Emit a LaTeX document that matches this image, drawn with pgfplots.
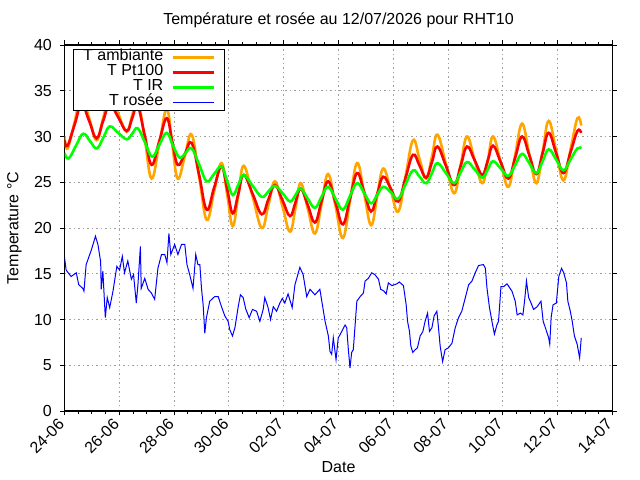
\documentclass[border=0pt]{standalone}
\usepackage{fontspec}
\setmainfont{Liberation Sans}
\usepackage{pgfplots}
\pgfplotsset{compat=1.18}
\definecolor{gporange}{RGB}{255,165,0}
\definecolor{gpred}{RGB}{255,0,0}
\definecolor{gpgreen}{RGB}{0,255,0}
\definecolor{gpblue}{RGB}{0,0,255}
\definecolor{gpgrid}{RGB}{160,160,160}
\newcommand{\gpfont}{\fontsize{16bp}{19bp}\selectfont}
\begin{document}
\begin{tikzpicture}[font=\gpfont]
\useasboundingbox (0,0) rectangle (640bp,480bp);
\begin{axis}[
  at={(64.5bp,69bp)}, anchor=south west,
  scale only axis, width=548bp, height=366bp,
  xmin=0, xmax=20, ymin=0, ymax=40,
  xtick={0,2,...,20},
  xticklabels={24-06,26-06,28-06,30-06,02-07,04-07,06-07,08-07,10-07,12-07,14-07},
  minor x tick num=3,
  ytick={0,5,...,40},
  /pgf/number format/assume math mode=true,
  tick align=outside,
  major tick length=4.5bp, minor tick length=3bp,
  tick style={black, line width=0.9bp},
  axis line style={line width=1.2bp},
  xmajorgrids, ymajorgrids,
  major grid style={gpgrid, dash pattern=on 1.5bp off 3bp, line width=0.9bp},
  tick label style={font=\gpfont},
  yticklabel style={anchor=east, inner sep=0pt, xshift=-8bp},
  xticklabel style={xshift=-3bp, yshift=-6bp, rotate=45, anchor=east, inner sep=0pt},
  title={Température et rosée au 12/07/2026 pour RHT10},
  title style={at={(0.5,1)}, anchor=base, yshift=15bp, font=\gpfont},
  ylabel={Temperature °C},
  ylabel style={at={(axis description cs:-0.084,0.5)}, anchor=base, font=\gpfont},
  xlabel={Date},
  xlabel style={at={(axis description cs:0.5,-0.167)}, anchor=base, font=\gpfont},
  legend cell align=right, legend plot pos=right,
  legend image code/.code={\draw[#1] (0bp,0bp) -- (41bp,0bp);},
  legend style={at={(rel axis cs:0.016,0.989)}, anchor=north west,
    draw=black, line width=0.9bp, fill=white, inner xsep=9.5bp, inner ysep=0.5bp,
    row sep=0pt, column sep=8bp, font=\gpfont,
    nodes={inner sep=0pt, text height=11bp, text depth=4bp}},
]
\addplot[gporange, line width=2.6bp, smooth, tension=0.7] coordinates {
(0.00,30.0) (0.11,28.7) (0.37,31.6) (0.62,34.5) (0.90,32.0) (1.17,29.6) (1.41,32.0) (1.65,34.5) (1.96,32.5)
(2.27,30.5) (2.47,32.3) (2.67,34.0) (2.93,29.7) (3.18,25.4) (3.46,29.2) (3.73,33.0) (3.93,29.2) (4.13,25.4)
(4.39,27.8) (4.64,30.2) (4.92,25.5) (5.19,20.9) (5.46,24.0) (5.73,27.1) (5.94,23.6) (6.14,20.2) (6.34,23.5)
(6.54,26.8) (6.87,23.4) (7.20,20.0) (7.44,22.5) (7.68,25.1) (7.96,22.3) (8.23,19.6) (8.43,22.2) (8.62,24.9)
(8.88,22.1) (9.14,19.4) (9.38,22.6) (9.62,25.9) (9.89,22.4) (10.16,18.9) (10.42,23.0) (10.68,27.1) (10.94,23.7)
(11.19,20.3) (11.41,23.4) (11.63,26.5) (11.91,24.1) (12.18,21.8) (12.45,25.7) (12.72,29.6) (12.96,27.5) (13.20,25.4)
(13.41,27.8) (13.61,30.2) (13.92,27.0) (14.22,23.8) (14.46,26.9) (14.69,30.0) (14.97,27.4) (15.25,24.9) (15.45,27.4)
(15.64,30.0) (15.92,27.2) (16.20,24.5) (16.45,28.0) (16.70,31.4) (16.96,28.1) (17.22,24.9) (17.45,28.3) (17.67,31.7)
(17.94,28.5) (18.21,25.2) (18.47,28.6) (18.72,32.0) (18.86,31.2)
};
\addlegendentry{T ambiante}
\addplot[gpred, line width=2.6bp, smooth, tension=0.7] coordinates {
(0.00,29.6) (0.11,29.0) (0.37,31.3) (0.62,33.5) (0.90,31.7) (1.17,29.8) (1.41,31.7) (1.65,33.5) (1.96,32.1)
(2.27,30.6) (2.47,32.0) (2.67,33.3) (2.93,30.1) (3.18,26.9) (3.46,29.5) (3.73,32.0) (3.93,29.5) (4.13,26.9)
(4.39,28.1) (4.64,29.3) (4.92,25.7) (5.19,22.0) (5.46,24.4) (5.73,26.7) (5.94,24.2) (6.14,21.6) (6.34,23.7)
(6.54,25.8) (6.87,23.7) (7.20,21.5) (7.44,23.1) (7.68,24.7) (7.96,23.0) (8.23,21.3) (8.43,22.8) (8.62,24.3)
(8.88,22.5) (9.14,20.6) (9.38,22.9) (9.62,25.1) (9.89,22.8) (10.16,20.4) (10.42,23.2) (10.68,26.0) (10.94,23.9)
(11.19,21.8) (11.41,23.7) (11.63,25.6) (11.91,24.3) (12.18,22.9) (12.45,25.5) (12.72,28.0) (12.96,26.8) (13.20,25.5)
(13.41,27.2) (13.61,28.9) (13.92,26.8) (14.22,24.7) (14.46,26.8) (14.69,28.9) (14.97,27.4) (15.25,25.8) (15.45,27.4)
(15.64,29.0) (15.92,27.2) (16.20,25.4) (16.45,27.7) (16.70,30.0) (16.96,28.0) (17.22,25.9) (17.45,28.2) (17.67,30.4)
(17.94,28.2) (18.21,26.0) (18.47,28.3) (18.72,30.6) (18.86,30.4)
};
\addlegendentry{T Pt100}
\addplot[gpgreen, line width=2.6bp, smooth, tension=0.7] coordinates {
(0.00,28.2) (0.15,27.6) (0.42,29.0) (0.68,30.3) (0.93,29.5) (1.18,28.7) (1.42,29.9) (1.65,31.1) (1.96,30.4)
(2.27,29.7) (2.47,30.3) (2.67,30.9) (2.93,29.4) (3.20,27.8) (3.46,29.1) (3.73,30.4) (3.96,29.0) (4.20,27.7)
(4.42,28.2) (4.64,28.7) (4.92,26.9) (5.19,25.1) (5.46,25.9) (5.73,26.7) (5.94,25.1) (6.14,23.6) (6.34,24.7)
(6.54,25.8) (6.87,24.6) (7.20,23.4) (7.44,24.0) (7.68,24.6) (7.96,23.8) (8.23,22.9) (8.43,23.6) (8.62,24.3)
(8.88,23.2) (9.14,22.2) (9.38,23.4) (9.62,24.5) (9.89,23.2) (10.16,22.0) (10.42,23.5) (10.68,24.9) (10.94,23.8)
(11.19,22.7) (11.41,23.6) (11.63,24.5) (11.91,23.9) (12.18,23.2) (12.45,24.8) (12.72,26.3) (12.96,25.6) (13.20,24.9)
(13.41,26.0) (13.61,27.1) (13.92,26.0) (14.22,24.9) (14.46,26.1) (14.69,27.2) (14.97,26.4) (15.25,25.5) (15.45,26.4)
(15.64,27.3) (15.92,26.5) (16.20,25.7) (16.45,26.9) (16.70,28.1) (16.96,27.1) (17.22,26.0) (17.45,27.3) (17.67,28.6)
(17.94,27.5) (18.21,26.3) (18.47,27.5) (18.72,28.7) (18.86,28.7)
};
\addlegendentry{T IR}
\addplot[gpblue, line width=1bp] coordinates {
(0.00,16.8) (0.06,15.4) (0.24,14.7) (0.43,15.1) (0.52,13.8) (0.67,13.4) (0.71,13.1) (0.79,16.0) (0.98,17.6)
(1.13,19.1) (1.22,18.2) (1.32,16.3) (1.34,13.3) (1.40,15.3) (1.49,10.2) (1.56,12.4) (1.65,11.3) (1.77,13.1)
(1.91,15.8) (2.01,15.4) (2.11,16.9) (2.19,15.1) (2.31,16.4) (2.44,14.4) (2.52,14.9) (2.62,11.8) (2.68,13.8)
(2.77,18.0) (2.80,13.4) (2.93,14.5) (3.05,13.3) (3.17,12.9) (3.29,12.2) (3.41,15.6) (3.54,17.1) (3.66,17.1)
(3.74,16.2) (3.81,19.4) (3.88,17.1) (4.02,18.2) (4.14,17.1) (4.27,18.2) (4.39,18.2) (4.47,16.0) (4.57,14.9)
(4.69,13.4) (4.79,17.1) (4.87,16.0) (4.94,16.0) (5.00,13.4) (5.06,11.6) (5.12,8.5) (5.18,10.2) (5.30,12.0)
(5.48,12.5) (5.61,12.5) (5.73,11.4) (5.85,10.4) (5.97,9.8) (6.03,8.9) (6.13,8.2) (6.22,9.1) (6.34,11.4)
(6.42,12.7) (6.52,12.4) (6.62,11.1) (6.74,10.2) (6.86,11.1) (7.01,10.9) (7.13,9.8) (7.25,11.1) (7.31,12.4)
(7.43,11.3) (7.52,10.0) (7.62,11.4) (7.74,10.9) (7.86,11.8) (7.95,12.3) (8.04,11.8) (8.16,12.8) (8.31,11.3)
(8.41,13.8) (8.59,15.7) (8.71,14.9) (8.84,12.5) (8.96,13.3) (9.14,12.7) (9.32,13.3) (9.44,11.1) (9.51,9.8)
(9.63,8.2) (9.69,6.5) (9.75,6.2) (9.81,8.0) (9.91,5.6) (9.99,8.0) (10.03,8.2) (10.12,8.7) (10.24,9.4)
(10.30,9.1) (10.36,6.7) (10.42,4.7) (10.48,6.4) (10.54,6.7) (10.67,12.0) (10.79,12.5) (10.91,12.9) (10.97,14.2)
(11.09,14.5) (11.21,15.1) (11.33,14.9) (11.46,14.4) (11.54,13.3) (11.66,13.1) (11.74,12.8) (11.82,14.0) (11.95,13.7)
(12.13,13.9) (12.22,14.1) (12.37,13.7) (12.47,11.6) (12.52,9.8) (12.59,8.7) (12.64,7.1) (12.71,6.4) (12.80,6.7)
(12.88,6.9) (12.98,8.2) (13.08,8.7) (13.16,9.8) (13.25,10.7) (13.32,8.7) (13.41,9.1) (13.49,10.4) (13.59,10.9)
(13.65,9.1) (13.71,7.1) (13.80,5.4) (13.89,6.7) (14.01,6.9) (14.14,7.4) (14.26,9.1) (14.38,10.2) (14.50,10.9)
(14.63,12.4) (14.75,13.8) (14.87,14.2) (14.99,15.1) (15.11,15.9) (15.29,16.0) (15.36,15.6) (15.42,13.4) (15.51,11.3)
(15.60,9.8) (15.69,8.4) (15.78,9.4) (15.84,9.8) (15.93,13.6) (16.03,13.6) (16.15,13.9) (16.33,13.1) (16.45,12.0)
(16.52,10.5) (16.64,10.7) (16.73,10.5) (16.79,12.0) (16.86,14.2) (16.94,12.4) (17.00,12.0) (17.12,11.1) (17.25,11.4)
(17.39,12.0) (17.47,9.8) (17.55,9.1) (17.67,8.0) (17.71,7.3) (17.76,10.2) (17.83,11.6) (17.95,11.8) (18.04,14.7)
(18.14,15.6) (18.22,15.1) (18.32,14.0) (18.37,12.0) (18.46,10.9) (18.53,9.8) (18.61,8.2) (18.71,7.3) (18.80,5.8)
(18.86,8.0)
};
\addlegendentry{T rosée}
\end{axis}
\end{tikzpicture}
\end{document}
